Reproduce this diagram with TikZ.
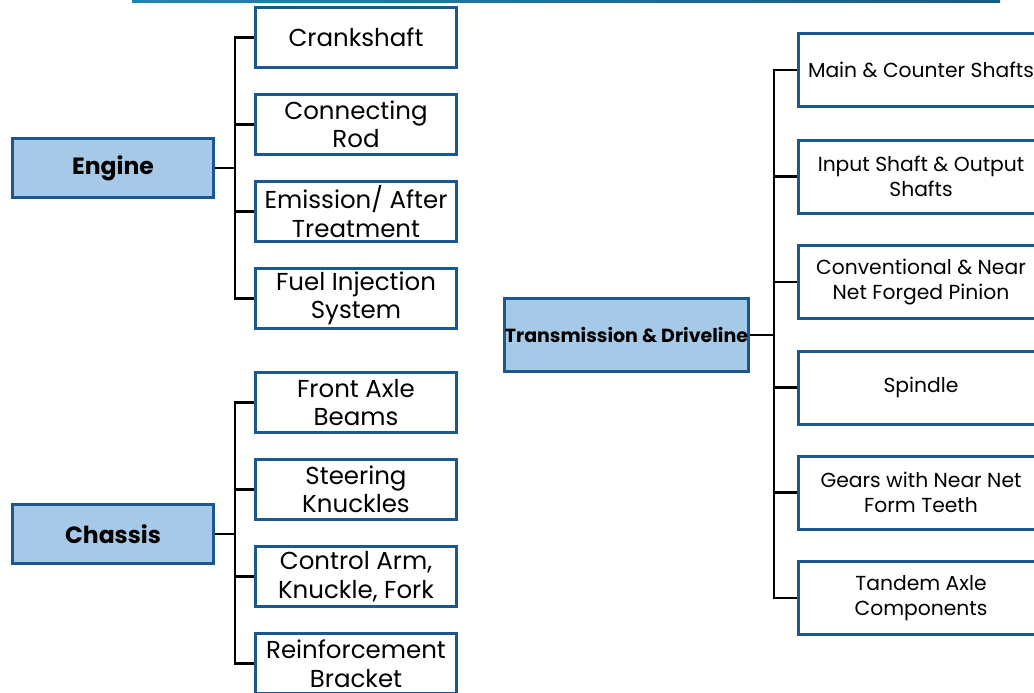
\documentclass[tikz,border=0pt]{standalone}
\usepackage{fontspec}
\setmainfont{Poppins}
\definecolor{bordc}{HTML}{1B5790}
\definecolor{fillc}{HTML}{A7C9E8}
\definecolor{lineA}{HTML}{1E86AE}
\definecolor{lineB}{HTML}{1B5A82}
\tikzset{
  catbox/.style={draw=bordc, line width=3pt, fill=fillc, minimum width=201pt, minimum height=59pt, inner sep=0pt, font=\fontsize{23.5}{26}\selectfont\bfseries},
  leftleaf/.style={draw=bordc, line width=3pt, fill=white, minimum width=201pt, minimum height=60pt, inner sep=1pt, align=center, font=\fontsize{24.5}{28.5}\selectfont},
  rightleaf/.style={draw=bordc, line width=3pt, fill=white, minimum width=245pt, minimum height=73pt, inner sep=1pt, align=center, font=\fontsize{20.3}{25}\selectfont},
  conn/.style={draw=black, line width=2.5pt}
}
\begin{document}
\begin{tikzpicture}[x=1pt,y=-1pt]
\useasboundingbox (0,0) rectangle (1034,693);
\clip (0,0) rectangle (1034,693);
\shade[left color=lineA, right color=lineB] (132,-1) rectangle (1000,2.5);

% category boxes
\node[catbox] (engine) at (113,168) {Engine};
\node[catbox] (chassis) at (113,534) {Chassis};
\node[catbox, minimum width=244pt, minimum height=73pt, font=\fontsize{19}{22}\selectfont\bfseries] (trans) at (626.5,335) {Transmission \& Driveline};

% left leaves
\node[leftleaf] (e1) at (356,37.5) {Crankshaft};
\node[leftleaf] (e2) at (356,124.5) {Connecting\\Rod};
\node[leftleaf] (e3) at (356,211.5) {Emission/ After\\Treatment};
\node[leftleaf] (e4) at (356,298.5) {Fuel Injection\\System};
\node[leftleaf] (c1) at (356,402.5) {Front Axle\\Beams};
\node[leftleaf] (c2) at (356,489.5) {Steering\\Knuckles};
\node[leftleaf] (c3) at (356,576.5) {Control Arm,\\Knuckle, Fork};
\node[leftleaf] (c4) at (356,663.5) {Reinforcement\\Bracket};

% right leaves
\node[rightleaf] (t1) at (921,70) {Main \& Counter Shafts};
\node[rightleaf] (t2) at (921,176.5) {Input Shaft \& Output\\Shafts};
\node[rightleaf] (t3) at (921,282) {Conventional \& Near\\Net Forged Pinion};
\node[rightleaf] (t4) at (921,387.5) {Spindle};
\node[rightleaf] (t5) at (921,492.5) {Gears with Near Net\\Form Teeth};
\node[rightleaf] (t6) at (921,598) {Tandem Axle\\Components};

% connectors
\coordinate (ej) at (235,168);
\coordinate (cj) at (235,534);
\coordinate (tj) at (774,335);
\draw[conn] (engine.east) -- (ej);
\foreach \n in {e1,e2,e3,e4} \draw[conn] (ej) |- (\n.west);
\draw[conn] (chassis.east) -- (cj);
\foreach \n in {c1,c2,c3,c4} \draw[conn] (cj) |- (\n.west);
\draw[conn] (trans.east) -- (tj);
\foreach \n in {t1,t2,t3,t4,t5,t6} \draw[conn] (tj) |- (\n.west);
\end{tikzpicture}
\end{document}
